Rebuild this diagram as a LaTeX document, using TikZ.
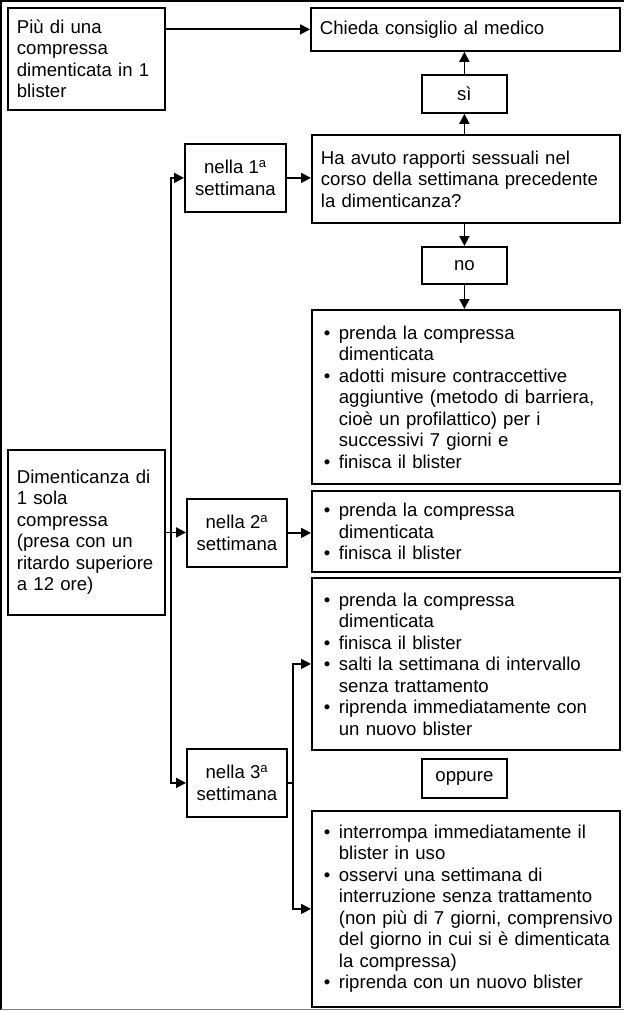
\documentclass[tikz,border=0pt]{standalone}
\usepackage{fontspec}
\setmainfont{Liberation Sans}
\usetikzlibrary{arrows.meta}
\newcommand{\corpo}{\fontsize{18.6}{21.5}\selectfont}
\newcommand{\puntino}{\makebox[21pt][l]{\hspace{6pt}\textbullet}}
\newcommand{\rientro}{\hspace*{21pt}}

\begin{document}
\begin{tikzpicture}[x=1pt,y=-1pt,
  casella/.style={draw,line width=1.8pt,anchor=north west,inner ysep=0pt,
    font=\corpo,align=left},
  testo/.style={casella,inner xsep=9pt},
  elenco/.style={casella,inner xsep=6pt,text width=296pt,minimum width=308pt},
  etichetta/.style={casella,inner sep=0pt,align=center},
  freccia/.style={line width=1.8pt,-{Triangle[length=10pt,width=10pt]}}]
  \useasboundingbox
    (0,0)
    rectangle
    (624,1011);
  % cornice
  \draw[line width=1.5pt]
    (1,1010)
    --
    (1,1)
    --
    (624,1);
  \draw[line width=1.5pt,gray]
    (1,1009.5)
    --
    (624,1009.5);
  % caselle
  \node[testo,text width=139pt,minimum height=102pt] (piu) at (7,7)
    {Più di una\\compressa\\dimenticata in 1\\blister};
  \node[testo,text width=291pt,minimum height=43pt] (medico) at (310,7)
    {Chieda consiglio al medico};
  \node[etichetta,minimum width=85pt,minimum height=38pt] (si) at (421,74)
    {sì};
  \node[testo,text width=290pt,minimum height=88pt] (domanda) at (311,134)
    {Ha avuto rapporti sessuali nel\\corso della settimana precedente\\la dimenticanza?};
  \node[etichetta,minimum width=101pt,minimum height=68pt] (nella1) at (184,143)
    {nella 1\textsuperscript{a}\\settimana};
  \node[etichetta,minimum width=85pt,minimum height=37pt] (no) at (421,246)
    {no};
  \node[elenco,minimum height=174pt] (prima) at (311,309)
    {\puntino prenda la compressa\\
     \rientro dimenticata\\
     \puntino adotti misure contraccettive\\
     \rientro aggiuntive (metodo di barriera,\\
     \rientro cioè un profilattico) per i\\
     \rientro successivi 7 giorni e\\
     \puntino finisca il blister};
  \node[testo,text width=139pt,minimum height=165pt] (dim) at (7,449)
    {Dimenticanza di\\1 sola\\compressa\\(presa con un\\ritardo superiore\\a 12 ore)};
  \node[etichetta,minimum width=100pt,minimum height=68pt] (nella2) at (186,498)
    {nella 2\textsuperscript{a}\\settimana};
  \node[elenco,minimum height=81pt] (seconda) at (311,490)
    {\puntino prenda la compressa\\
     \rientro dimenticata\\
     \puntino finisca il blister};
  \node[elenco,minimum height=172pt] (terza) at (311,577)
    {\puntino prenda la compressa\\
     \rientro dimenticata\\
     \puntino finisca il blister\\
     \puntino salti la settimana di intervallo\\
     \rientro senza trattamento\\
     \puntino riprenda immediatamente con\\
     \rientro un nuovo blister};
  \node[etichetta,minimum width=100pt,minimum height=68pt] (nella3) at (186,748)
    {nella 3\textsuperscript{a}\\settimana};
  \node[etichetta,minimum width=85pt,minimum height=39pt] (oppure) at (421,758)
    {oppure};
  \node[elenco,minimum height=196pt] (quarta) at (311,810)
    {\puntino interrompa immediatamente il\\
     \rientro blister in uso\\
     \puntino osservi una settimana di\\
     \rientro interruzione senza trattamento\\
     \rientro (non più di 7 giorni, comprensivo\\
     \rientro del giorno in cui si è dimenticata\\
     \rientro la compressa)\\
     \puntino riprenda con un nuovo blister};
  \coordinate (tronco) at (171,0);
  \coordinate (ramo) at (293,0);
  % frecce
  \draw[freccia]
    (piu.east |- medico.west)
    --
    (medico.west);
  \draw[freccia]
    (si.north)
    --
    (si.north |- medico.south);
  \draw[freccia]
    (domanda.north -| si)
    --
    (si.south);
  \draw[freccia]
    (nella1.east)
    --
    (nella1.east -| domanda.west);
  \draw[freccia]
    (domanda.south -| no)
    --
    (no.north);
  \draw[freccia]
    (no.south)
    --
    (no.south |- prima.north);
  \draw[freccia]
    (dim.east)
    --
    (dim.east -| nella2.west);
  \draw[freccia]
    (nella2.east)
    --
    (nella2.east -| seconda.west);
  \draw[freccia]
    (tronco |- dim.east)
    |-
    (nella1.west);
  \draw[freccia]
    (tronco |- dim.east)
    |-
    (nella3.west);
  \draw[line width=1.8pt]
    (nella3.east)
    --
    (ramo |- nella3.east);
  \draw[freccia]
    (ramo |- nella3.east)
    |-
    (terza.west);
  \draw[freccia]
    (ramo |- nella3.east)
    |-
    (quarta.west);
\end{tikzpicture}
\end{document}
